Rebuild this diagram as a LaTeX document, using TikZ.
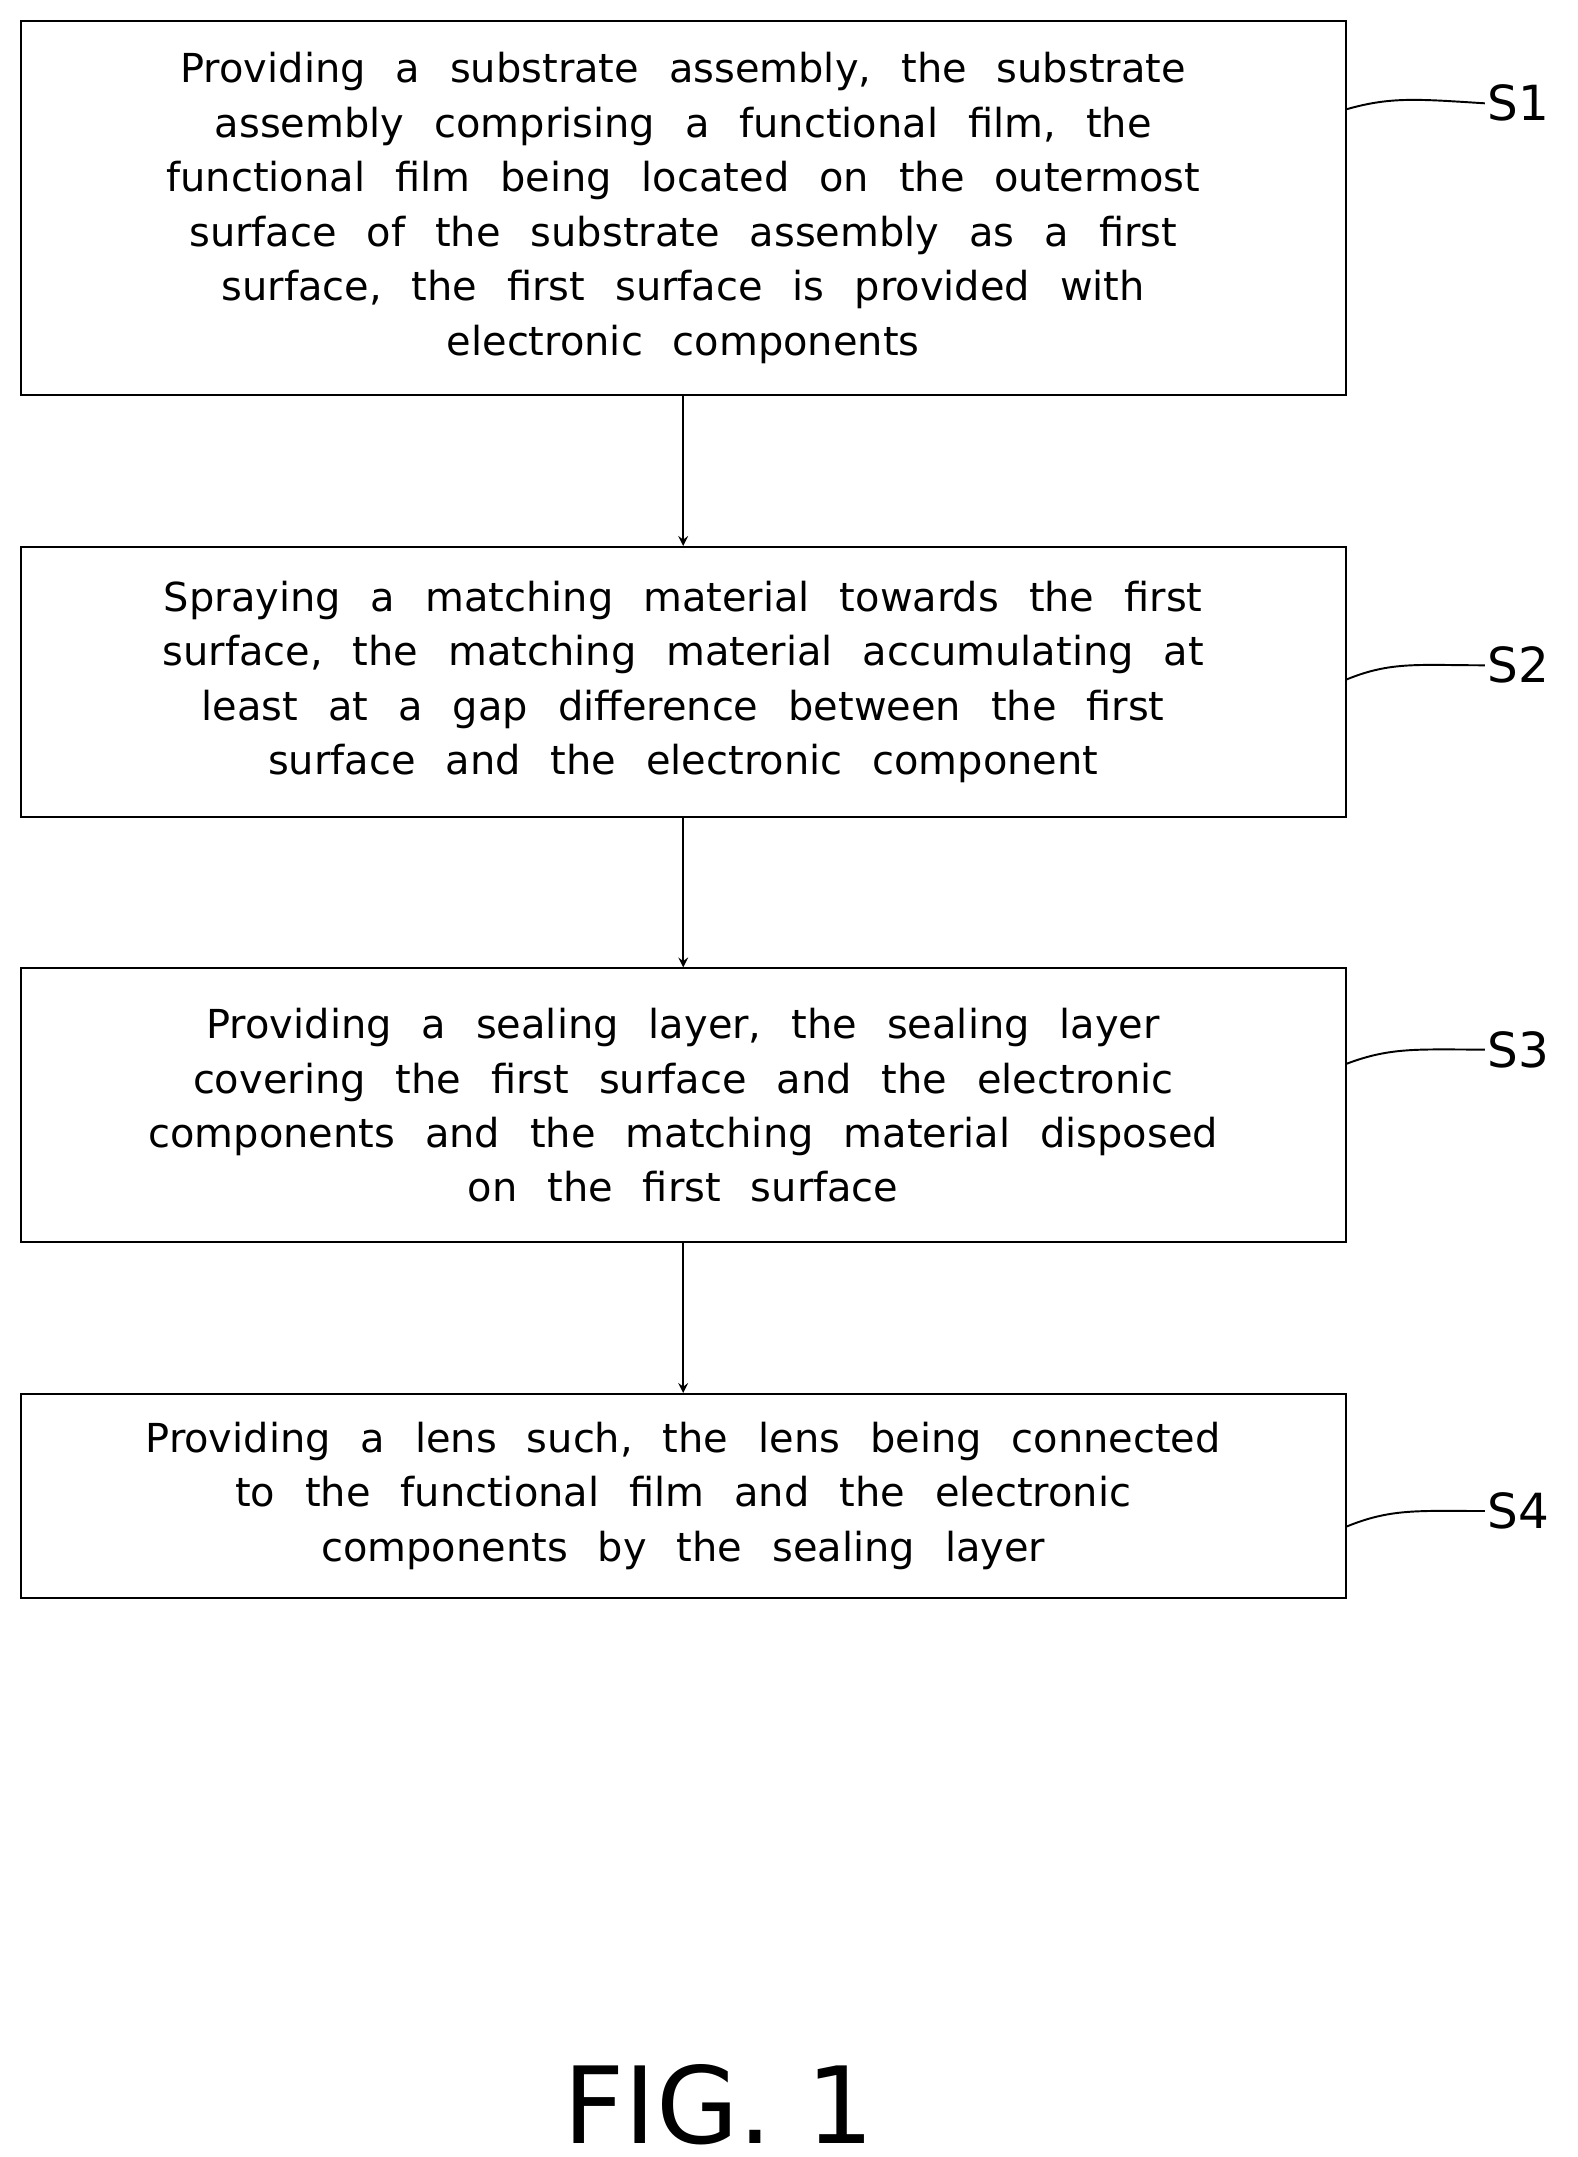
\documentclass[tikz,border=0pt]{standalone}
\usepackage{fontspec}
\setmainfont{DejaVu Sans}
\usetikzlibrary{arrows}
\newcommand{\boxfont}{\fontsize{16.5}{22.5}\selectfont\spaceskip=0.75em plus 0.2em\relax}
\tikzstyle{boxes} = [rectangle, draw=black, thick, align=center, font=\boxfont, minimum width=19.24cm]
\tikzstyle{steplabel} = [font=\fontsize{20}{24}\selectfont, anchor=west, inner sep=1pt]
\tikzstyle{arrow} = [thick, ->, >=stealth]
\tikzstyle{line} = [thick, -]

\begin{document}
\begin{tikzpicture}[x=0.02cm, y=-0.02cm]
    \useasboundingbox (0,0) rectangle (1145,1566);

    \node (s1) [boxes, minimum height=5.44cm] at (496,151) {Providing a substrate assembly, the substrate\\assembly comprising a functional film, the\\functional film being located on the outermost\\surface of the substrate assembly as a first\\surface, the first surface is provided with\\electronic components};
    \node (s2) [boxes, minimum height=3.92cm] at (496,495) {Spraying a matching material towards the first\\surface, the matching material accumulating at\\least at a gap difference between the first\\surface and the electronic component};
    \node (s3) [boxes, minimum height=3.98cm] at (496,802.5) {Providing a sealing layer, the sealing layer\\covering the first surface and the electronic\\components and the matching material disposed\\on the first surface};
    \node (s4) [boxes, minimum height=2.96cm] at (496,1086) {Providing a lens such, the lens being connected\\to the functional film and the electronic\\components by the sealing layer};

    \node (l1) [steplabel] at (1078,75) {S1};
    \node (l2) [steplabel] at (1078,483) {S2};
    \node (l3) [steplabel] at (1078,762) {S3};
    \node (l4) [steplabel] at (1078,1097) {S4};

    \node (fig) [font=\fontsize{44}{48}\selectfont] at (522,1528) {FIG. 1};

    \draw[arrow] (s1) -- (s2);
    \draw[arrow] (s2) -- (s3);
    \draw[arrow] (s3) -- (s4);

    \draw[line] ([yshift=-1.3cm]s1.north east) .. controls (1010,70) and (1030,72) .. (l1.west);
    \draw[line] ([yshift=-1.94cm]s2.north east) .. controls (1010,480) and (1030,483) .. (l2.west);
    \draw[line] ([yshift=-1.4cm]s3.north east) .. controls (1010,760) and (1030,762) .. (l3.west);
    \draw[line] ([yshift=-1.94cm]s4.north east) .. controls (1010,1095) and (1030,1097) .. (l4.west);

\end{tikzpicture}
\end{document}
